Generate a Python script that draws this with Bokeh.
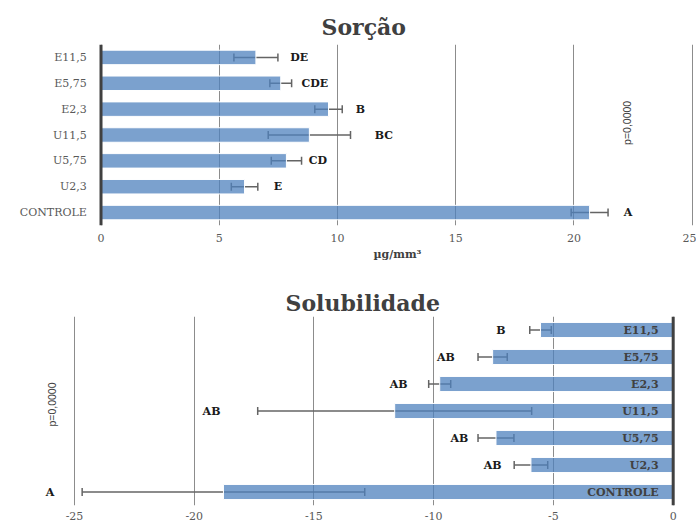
from bokeh.plotting import figure
from bokeh.models import ColumnDataSource, Whisker, TeeHead, FixedTicker, Label, FactorRange, Range1d, Span, Title
from bokeh.layouts import column
from bokeh.embed import file_html
from bokeh.resources import INLINE
from bokeh.core.properties import value

# ---- data ----
groups = ["E11,5", "E5,75", "E2,3", "U11,5", "U5,75", "U2,3", "CONTROLE"]

sorcao_mean = [6.55, 7.60, 9.62, 8.81, 7.84, 6.07, 20.66]
sorcao_err = [0.93, 0.46, 0.58, 1.74, 0.64, 0.56, 0.78]
sorcao_letters = ["DE", "CDE", "B", "BC", "CD", "E", "A"]
sorcao_letter_x = [8.0, 8.48, 10.77, 11.57, 8.78, 7.30, 22.1]

sol_mean = [-5.54, -7.54, -9.75, -11.63, -7.40, -5.94, -18.78]
sol_err = [0.45, 0.61, 0.46, 5.72, 0.75, 0.70, 5.90]
sol_letters = ["B", "AB", "AB", "AB", "AB", "AB", "A"]
sol_letter_x = [-7.39, -9.86, -11.84, -19.65, -9.30, -7.91, -26.2]

xticks_top = [0, 5, 10, 15, 20, 25]
xticks_bottom = [-25, -20, -15, -10, -5, 0]
unit_label = "µg/mm³"
p_text = "p=0,0000"

factors = list(reversed(groups))

BAR = "#4F81BD"
GRID = "#8C8C8C"
AXIS = "#404040"
TXT = "#595959"
ERR = "#646464"
SERIF = "DejaVu Serif"


def base_fig(h, xr, title, offset, standoff, **kw):
    p = figure(width=696, height=h, x_range=xr,
               y_range=FactorRange(factors=factors, range_padding=0),
               output_backend="svg", toolbar_location=None,
               min_border_left=0, min_border_right=0, title=title, **kw)
    p.outline_line_color = None
    p.ygrid.grid_line_color = None
    p.xgrid.grid_line_color = GRID
    p.xgrid.grid_line_width = 1
    p.yaxis.visible = False
    p.xaxis.axis_line_color = None
    p.xaxis.major_tick_line_color = None
    p.xaxis.minor_tick_line_color = None
    p.xaxis.major_tick_out = 0
    p.xaxis.major_tick_in = 0
    p.xaxis.major_label_text_font = SERIF
    p.xaxis.major_label_text_font_size = "11px"
    p.xaxis.major_label_text_color = TXT
    p.title.align = "left"
    p.title.offset = offset
    p.title.standoff = standoff
    p.title.text_font = SERIF
    p.title.text_font_size = "22px"
    p.title.text_font_style = "bold"
    p.title.text_color = AXIS
    return p


def whisker(src):
    return Whisker(source=src, base="grp", lower="lo", upper="hi",
                   dimension="width", line_color=ERR, line_width=1.5,
                   upper_head=TeeHead(size=8, line_color=ERR, line_width=1.5),
                   lower_head=TeeHead(size=8, line_color=ERR, line_width=1.5))


# ---------------- Sorção ----------------
src1 = ColumnDataSource(dict(
    grp=groups, mean=sorcao_mean,
    lo=[m - e for m, e in zip(sorcao_mean, sorcao_err)],
    hi=[m + e for m, e in zip(sorcao_mean, sorcao_err)],
    letter=sorcao_letters, lx=sorcao_letter_x))

p1 = base_fig(270, Range1d(-4.25, 25.18), "Sorção", 321, 10,
              min_border_top=44, min_border_bottom=45)
p1.xaxis.ticker = FixedTicker(ticks=xticks_top)
p1.xgrid.ticker = FixedTicker(ticks=xticks_top)
p1.xaxis.major_label_standoff = 8
p1.add_layout(Title(text=unit_label, align="left", offset=373, standoff=3,
                    text_font=SERIF, text_font_size="11px", text_font_style="bold",
                    text_color=AXIS), "below")

p1.hbar(y="grp", left=0, right="mean", height=0.56, source=src1,
        fill_color=BAR, fill_alpha=0.75, line_color="#FFFFFF", line_width=1)
p1.add_layout(Span(location=0, dimension="height", line_color=AXIS, line_width=3))
p1.add_layout(whisker(src1))
p1.text(x=-0.6, y="grp", text="grp", source=src1,
        text_font=value(SERIF), text_font_size="11px",
        text_baseline="middle", text_align="right", text_color=TXT)
p1.text(x="lx", y="grp", text="letter", source=src1,
        text_font=value(SERIF), text_font_style="bold", text_font_size="11px",
        text_baseline="middle", text_align="left", text_color="#1A1A1A")
p1.add_layout(Label(x=22.25, y=3.97, text=p_text, angle=90, angle_units="deg",
                    text_font="Liberation Sans", text_font_size="10.5px",
                    text_color=AXIS, text_align="center", text_baseline="middle"))

# ---------------- Solubilidade ----------------
src2 = ColumnDataSource(dict(
    grp=groups, mean=sol_mean,
    lo=[m - e for m, e in zip(sol_mean, sol_err)],
    hi=[m + e for m, e in zip(sol_mean, sol_err)],
    letter=sol_letters, lx=sol_letter_x))

p2 = base_fig(254, Range1d(-28.09, 0.973), "Solubilidade", 285, 1,
              min_border_top=46, min_border_bottom=19)
p2.xaxis.ticker = FixedTicker(ticks=xticks_bottom)
p2.xgrid.ticker = FixedTicker(ticks=xticks_bottom)
p2.xaxis.major_label_overrides = {t: str(t) for t in xticks_bottom}
p2.xaxis.major_label_standoff = 6

p2.hbar(y="grp", left="mean", right=0, height=0.56, source=src2,
        fill_color=BAR, fill_alpha=0.75, line_color="#FFFFFF", line_width=1)
p2.add_layout(Span(location=0, dimension="height", line_color=AXIS, line_width=3))
p2.add_layout(whisker(src2))
p2.text(x="lx", y="grp", text="letter", source=src2,
        text_font=value(SERIF), text_font_style="bold", text_font_size="11px",
        text_baseline="middle", text_align="left", text_color="#1A1A1A")
p2.text(x=-0.61, y="grp", text="grp", source=src2,
        text_font=value(SERIF), text_font_style="bold", text_font_size="11px",
        text_baseline="middle", text_align="right", text_color=AXIS)
p2.add_layout(Label(x=-25.93, y=3.74, text=p_text, angle=90, angle_units="deg",
                    text_font="Liberation Sans", text_font_size="10.5px",
                    text_color=AXIS, text_align="center", text_baseline="middle"))

layout = column(p1, p2, spacing=0)
open("out.html", "w").write(file_html(layout, INLINE))
